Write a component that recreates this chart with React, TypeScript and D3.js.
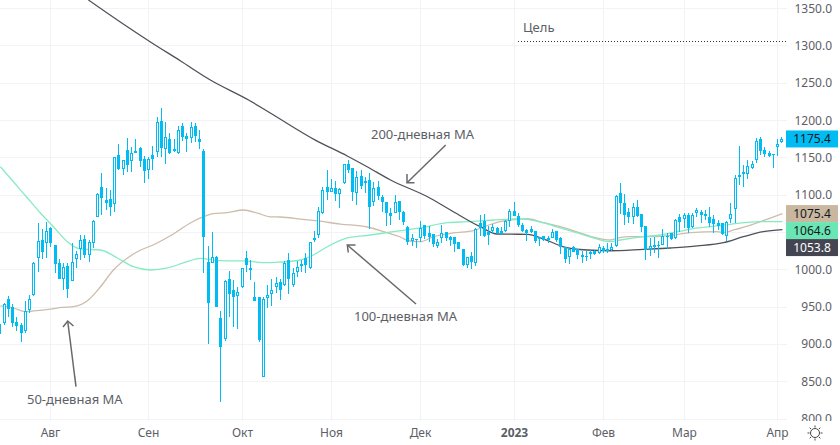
import React from 'react';
import * as d3 from 'd3';

const opens = [927,929,961,950,930,926,918,946,966,1016,1040,1036,1056,1033,1009,988,1005,985,1015,1028,1041,1020,1036,1071,1111,1094,1095,1088,1154,1135,1161,1146,1157,1163,1149,1134,1154,1158,1199,1162,1175,1162,1157,1193,1179,1177,1193,1175,1159,1010,1009,1017,935,907,988,973,965,977,1016,1002,964,964,856,962,968,977,984,980,1013,980,997,1008,1016,1002,1040,1047,1076,1111,1104,1110,1102,1116,1142,1136,1103,1126,1119,1120,1091,1111,1098,1091,1076,1076,1092,1078,1057,1039,1041,1043,1060,1049,1048,1032,1043,1051,1044,1044,1037,1028,1007,1019,1009,1063,1065,1051,1052,1056,1052,1052,1065,1079,1072,1060,1053,1055,1052,1041,1045,1043,1043,1052,1043,1031,1017,1031,1028,1020,1019,1021,1025,1023,1029,1028,1027,1032,1103,1090,1078,1071,1084,1075,1059,1028,1033,1033,1033,1045,1049,1043,1071,1068,1074,1057,1076,1078,1075,1071,1068,1063,1063,1045,1068,1082,1127,1131,1128,1136,1147,1175,1161,1157,1155,1165,1171];
const highs = [930,956,965,954,937,929,958,966,1010,1063,1055,1064,1057,1033,1015,1009,1009,1036,1025,1047,1047,1040,1067,1103,1130,1110,1107,1151,1169,1147,1177,1165,1175,1165,1153,1151,1166,1205,1217,1198,1183,1175,1193,1197,1183,1198,1197,1187,1162,1032,1051,1019,945,986,998,986,977,1002,1025,1013,984,964,964,980,988,990,988,1012,1023,1003,1012,1013,1023,1037,1052,1084,1111,1134,1122,1119,1110,1142,1147,1136,1132,1134,1124,1130,1118,1119,1100,1091,1083,1100,1092,1079,1059,1048,1041,1065,1060,1059,1048,1041,1060,1051,1045,1044,1037,1028,1017,1024,1056,1074,1075,1059,1061,1057,1057,1067,1081,1091,1076,1063,1055,1059,1052,1044,1045,1045,1055,1052,1044,1031,1029,1032,1028,1025,1025,1027,1027,1035,1032,1036,1036,1100,1116,1102,1083,1090,1094,1075,1059,1043,1044,1039,1055,1049,1049,1068,1075,1076,1076,1076,1083,1080,1080,1084,1074,1067,1063,1065,1090,1127,1166,1141,1147,1146,1177,1178,1165,1159,1155,1175,1178];
const lows = [911,926,937,923,918,903,915,942,965,997,1015,1016,1031,996,988,973,962,985,1002,1013,1016,1010,1029,1071,1073,1080,1072,1078,1134,1127,1131,1131,1157,1138,1116,1122,1134,1151,1151,1142,1155,1158,1155,1173,1158,1170,1171,1162,996,901,1009,950,823,905,937,923,921,976,997,986,958,903,856,949,952,969,960,978,968,977,990,997,996,1001,1037,1043,1075,1094,1104,1092,1083,1115,1130,1092,1087,1108,1103,1055,1086,1094,1078,1059,1060,1076,1067,1060,1033,1032,1029,1037,1041,1037,1031,1029,1036,1039,1032,1024,1028,1005,1003,1001,1005,1045,1044,1033,1048,1048,1047,1051,1057,1072,1057,1051,1039,1049,1036,1032,1039,1036,1043,1037,1021,1009,1008,1024,1015,1009,1012,1015,1020,1021,1023,1023,1025,1031,1075,1060,1063,1061,1071,1051,1013,1019,1023,1016,1033,1028,1040,1041,1051,1056,1049,1056,1071,1063,1067,1057,1049,1053,1047,1039,1063,1063,1114,1111,1122,1135,1143,1154,1151,1151,1136,1153,1170];
const closes = [914,954,947,929,925,915,945,961,1009,1039,1024,1052,1036,1008,988,1004,974,1011,1021,1040,1020,1037,1065,1102,1096,1090,1084,1151,1135,1147,1140,1157,1159,1146,1132,1149,1149,1198,1163,1178,1157,1159,1187,1178,1175,1191,1179,1171,1044,956,1017,950,897,985,968,964,970,1002,1007,1000,958,906,961,966,973,982,973,1009,988,996,1004,1005,1007,1037,1043,1079,1107,1104,1110,1102,1108,1142,1134,1104,1124,1112,1116,1084,1110,1099,1091,1076,1072,1091,1078,1064,1037,1043,1040,1056,1045,1044,1035,1037,1049,1043,1040,1035,1028,1007,1017,1011,1055,1056,1045,1047,1058,1049,1048,1065,1079,1072,1060,1052,1049,1051,1039,1044,1040,1040,1051,1040,1031,1015,1028,1024,1020,1017,1017,1024,1021,1031,1025,1025,1031,1099,1090,1074,1071,1084,1072,1057,1027,1032,1031,1032,1045,1044,1041,1067,1064,1074,1056,1074,1080,1074,1072,1063,1061,1059,1048,1064,1075,1123,1124,1128,1139,1142,1173,1159,1155,1153,1154,1169,1175.4];

const ma50Bars = [0,3,5.9,7.8,11.8,14.6,17.2,20.7,23.5,26.6,31.3,36.9,40.7,44.7,47.8,50.1,53.4,57.2,60.5,63.5,65.9,70.6,74.6,80,86.4,91.1,94.1,96,98.8,101.9,106.6,111.3,113.6,117.6,122.4,124,127.8,131.8,135.8,139.5,143.5,145.4,148.2,153.6,158.4,162.4,168.7,170.1,172.5,177.2,180.5,184];
const ma50Vals = [951.6,948.9,943.9,944.9,947.5,949.8,950.6,959.6,977,999.8,1021.2,1036,1048,1062.8,1071.2,1075.2,1076.6,1080.2,1076,1071,1070.8,1068.1,1065.5,1061.4,1057.4,1049.4,1044,1039,1037.7,1044.4,1049.4,1052.5,1057.4,1064.5,1068.1,1068.5,1063.2,1057.8,1050.7,1044,1040,1042.7,1044.4,1044.4,1046.7,1049.8,1051.1,1049.8,1053.4,1061.4,1068.1,1075.4];

const ma100Bars = [0,3.06,6.35,9.41,12.47,15.76,18.82,23.53,27.53,31.29,35.29,39.29,43.06,47.06,51.06,57.18,62.82,65.88,70.59,73.65,76.94,81.65,87.06,92.47,98.82,105.18,109.88,116,122.35,124,127.76,131.76,135.76,139.53,143.53,145.88,151.29,155.29,159.29,164,168.71,173.41,178.82,184];
const ma100Vals = [1138.2,1118.1,1096.3,1076.2,1057.8,1037.7,1027.9,1026.6,1015.9,1004.2,999.8,1002.5,1009.2,1015.5,1012.3,1011.9,1009.6,1010.5,1013.2,1019.9,1031,1042.7,1046.7,1051.1,1056.1,1063.2,1064.5,1066.8,1068.5,1067.7,1062.8,1056.1,1049.4,1042.7,1037.7,1040,1044.4,1046.7,1051.1,1056.1,1058.8,1062.4,1064.5,1064.6];

const ma200Bars = [20.7,28.2,35.3,42.4,49.4,58.4,63.5,74.1,81.6,86.4,91.8,100.5,105.9,112.9,116.9,120,124,127.8,132.5,138.1,143.5,151.3,157.6,164,170.1,174.8,179.5,184];
const ma200Vals = [1361.6,1332.1,1305.4,1279.9,1254.4,1227.6,1210.2,1173.9,1152.6,1137.8,1120.4,1097.9,1080.2,1057.8,1048,1047.8,1047.6,1041.3,1030.9,1026.6,1025.6,1027.5,1029.3,1032,1036.4,1044.4,1051.1,1053.8];

const priceTicks = [800,850,900,950,1000,1100,1150,1200,1250,1300,1350];
const gridPrices = [800,850,900,950,1000,1050,1100,1150,1200,1250,1300,1350];
const monthLabels = ['Авг','Сен','Окт','Ноя','Дек','2023','Фев','Мар','Апр'];
const monthBars = [12,35,57,78,99,121,142,161,183];
const targetPrice = 1307;

const W = 840, H = 445;
const plotW = 787, plotH = 421;
const BLUE = '#00bcf2', BEIGE = '#cdbdaa', GREEN = '#86ebc3', DARK = '#505159';
const FONT = '"Noto Sans", sans-serif';
const LABEL = '#5c6066';

const barX = d3.scaleLinear().domain([0, 184]).range([-0.1, 781.9]);
const px = (i: number) => Math.floor(barX(i));
const y = d3.scaleLinear().domain([800, 1350]).range([419.1, 8.65]);

const maLine = d3.line<[number, number]>()
  .x(d => barX(d[0]) + 0.5)
  .y(d => y(d[1]))
  .curve(d3.curveMonotoneX);
const pairs = (a: number[], b: number[]) => a.map((v, i) => [v, b[i]] as [number, number]);

const arrows = [
  { from: [445.7, 145], tip: [407, 182.7], b1: [407, 174], b2: [414.5, 182.7] },
  { from: [416, 304], tip: [347.3, 245], b1: [355.5, 245], b2: [348.3, 252.5] },
  { from: [76, 386.7], tip: [67.7, 321], b1: [63, 327], b2: [73.5, 326] },
];
const notes = [
  { text: '200-дневная MA', x: 371, y: 139 },
  { text: '100-дневная MA', x: 354, y: 321 },
  { text: '50-дневная MA', x: 27, y: 404 },
];
const tags = [
  { text: '1175.4', cy: y(1175.4), fill: BLUE, color: '#131722' },
  { text: '1075.4', cy: y(1075.4), fill: '#c9b7a0', color: '#131722' },
  { text: '1064.6', cy: y(1075.4) + 17, fill: '#6ae6b4', color: '#131722' },
  { text: '1053.8', cy: y(1075.4) + 34, fill: '#434652', color: '#ffffff' },
];

export default function App() {
  const gearRays = d3.range(8).map(k => (k * Math.PI) / 4);
  return (
    <svg width={W} height={H} style={{ position: 'absolute', left: 0, top: 0, background: '#fff' }}>
      <defs>
        <clipPath id="plot"><rect x={0} y={0} width={plotW} height={plotH} /></clipPath>
      </defs>
      <g shapeRendering="crispEdges">
        {gridPrices.map(p => (
          <line key={p} x1={0} x2={plotW} y1={Math.floor(y(p)) + 0.5} y2={Math.floor(y(p)) + 0.5} stroke="#f1f3f6" />
        ))}
        {monthBars.map(b => (
          <line key={b} x1={px(b) + 0.5} x2={px(b) + 0.5} y1={0} y2={plotH} stroke="#f1f3f6" />
        ))}
      </g>
      <g clipPath="url(#plot)">
        <path d={maLine(pairs(ma50Bars, ma50Vals)) || ''} fill="none" stroke={BEIGE} strokeWidth={1.3} />
        <path d={maLine(pairs(ma100Bars, ma100Vals)) || ''} fill="none" stroke={GREEN} strokeWidth={1.3} />
        <path d={maLine(pairs(ma200Bars, ma200Vals)) || ''} fill="none" stroke={DARK} strokeWidth={1.3} />
        <g shapeRendering="crispEdges">
          {opens.map((o, i) => {
            const c = closes[i];
            const x = px(i);
            const top = Math.round(y(Math.max(o, c)));
            const bot = Math.max(Math.round(y(Math.min(o, c))), top + 1);
            const hi = Math.round(y(highs[i]));
            const lo = Math.round(y(lows[i]));
            return (
              <g key={i}>
                <rect x={x} y={hi} width={1} height={Math.max(lo - hi, 1)} fill={BLUE} />
                {c >= o ? (
                  <rect x={x - 0.5} y={top + 0.5} width={2} height={Math.max(bot - top - 1, 1)} fill="#fff" stroke={BLUE} />
                ) : (
                  <rect x={x - 1} y={top} width={3} height={bot - top} fill={BLUE} />
                )}
              </g>
            );
          })}
        </g>
      </g>
      <line x1={518} x2={plotW} y1={Math.round(y(targetPrice)) + 0.5} y2={Math.round(y(targetPrice)) + 0.5} stroke="#333" strokeDasharray="1 2" shapeRendering="crispEdges" />
      <text x={523} y={32} fontFamily={FONT} fontSize={13} fill={LABEL}>Цель</text>
      {arrows.map((a, i) => (
        <g key={i} stroke="#6a6a6e" strokeWidth={1.5} fill="none">
          <line x1={a.from[0]} y1={a.from[1]} x2={a.tip[0]} y2={a.tip[1]} />
          <polyline points={`${a.b1[0]},${a.b1[1]} ${a.tip[0]},${a.tip[1]} ${a.b2[0]},${a.b2[1]}`} />
        </g>
      ))}
      {notes.map(n => (
        <text key={n.text} x={n.x} y={n.y} fontFamily={FONT} fontSize={13} fill={LABEL}>{n.text}</text>
      ))}
      <rect x={plotW} y={plotH} width={W - plotW} height={H - plotH} fill="#fff" />
      {priceTicks.map(p => (
        <text key={p} x={832} y={Math.min(y(p) + 4, 423)} textAnchor="end" fontFamily={FONT} fontSize={12} fill={LABEL}>{p.toFixed(1)}</text>
      ))}
      {tags.map(t => (
        <g key={t.text}>
          <rect x={786} y={t.cy - 8.5} width={52} height={17} fill={t.fill} />
          <text x={812} y={t.cy + 4} textAnchor="middle" fontFamily={FONT} fontSize={12} fill={t.color}>{t.text}</text>
        </g>
      ))}
      <rect x={0} y={421} width={W} height={24} fill="#fff" />
      {monthLabels.map((m, i) => (
        <text key={m} x={px(monthBars[i]) + 0.5} y={437} textAnchor="middle" fontFamily={FONT} fontSize={12}
          fontWeight={m === '2023' ? 700 : 400} fill={LABEL}>{m}</text>
      ))}
      <g transform="translate(815,433)" stroke="#444" fill="none" strokeWidth={1}>
        <circle r={4.5} />
        {gearRays.map((a, i) => (
          <line key={i} x1={5.5 * Math.cos(a)} y1={5.5 * Math.sin(a)} x2={7.5 * Math.cos(a)} y2={7.5 * Math.sin(a)} />
        ))}
      </g>
    </svg>
  );
}
